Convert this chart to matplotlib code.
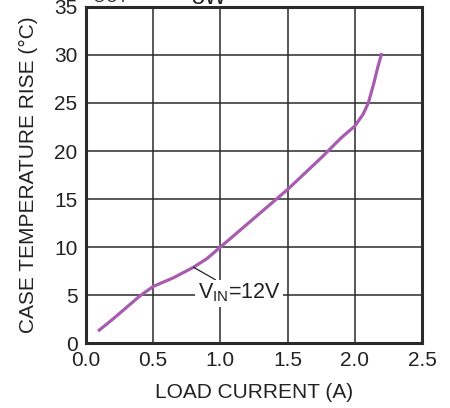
import matplotlib
matplotlib.use('Agg')
from matplotlib import pyplot as plt

plt.rcParams['font.family'] = ['Liberation Sans', 'DejaVu Sans']
plt.rcParams['mathtext.fontset'] = 'custom'
plt.rcParams['mathtext.rm'] = 'Liberation Sans'

# curve
load_current = [0.09, 0.2, 0.3, 0.4, 0.5, 0.65, 0.8, 0.9, 1.0, 1.25, 1.5, 1.75, 1.9, 2.0, 2.06, 2.1, 2.14, 2.17, 2.2]
temp_rise = [1.25, 2.5, 3.7, 4.9, 5.9, 6.8, 7.9, 8.8, 10.0, 13.0, 16.0, 19.3, 21.4, 22.6, 23.8, 25.0, 27.0, 28.7, 30.2]
x_ticks = [0.0, 0.5, 1.0, 1.5, 2.0, 2.5]
y_ticks = [0, 5, 10, 15, 20, 25, 30, 35]

fig = plt.figure(figsize=(4.5, 4.08), dpi=100)
ax = fig.add_axes([0.191, 0.159, 0.747, 0.824])
ax.plot(load_current, temp_rise, color='#a85cb0', lw=2.3, solid_capstyle='butt', zorder=3)
ax.set_xlim(0, 2.5)
ax.set_ylim(0, 35)
ax.set_xticks(x_ticks)
ax.set_xticklabels(['%.1f' % v for v in x_ticks])
ax.set_yticks(y_ticks)
ax.grid(True, color='#2a2a2a', lw=1.1)
ax.tick_params(length=0, labelsize=15, pad=6, colors='#222222')
for s in ax.spines.values():
    s.set_linewidth(2.2)
    s.set_color('#2a2a2a')
ax.set_xlabel('LOAD CURRENT (A)', fontsize=15, labelpad=9, color='#222222')
ax.set_ylabel('CASE TEMPERATURE RISE (°C)', fontsize=15, labelpad=12, color='#222222')

ax.annotate(r'$\mathregular{V_{IN}}$=12V', xy=(0.8, 7.9), xytext=(0.83, 5.2),
            fontsize=15.5, va='center', ha='left', color='#222222',
            bbox=dict(boxstyle='square,pad=0.1', fc='white', ec='none'),
            arrowprops=dict(arrowstyle='-', color='#222222', lw=0.9, shrinkA=0, shrinkB=0),
            zorder=4)

# title line, mostly cut off by the top edge as in the reference
fig.text(0.172, 1.003, r'$\mathregular{V_{OUT}}$ =', fontsize=17, va='baseline', ha='left', color='#222222')
fig.text(0.425, 0.991, '5W', fontsize=17, va='baseline', ha='left', color='#222222')

fig.savefig('out.png', dpi=100)
